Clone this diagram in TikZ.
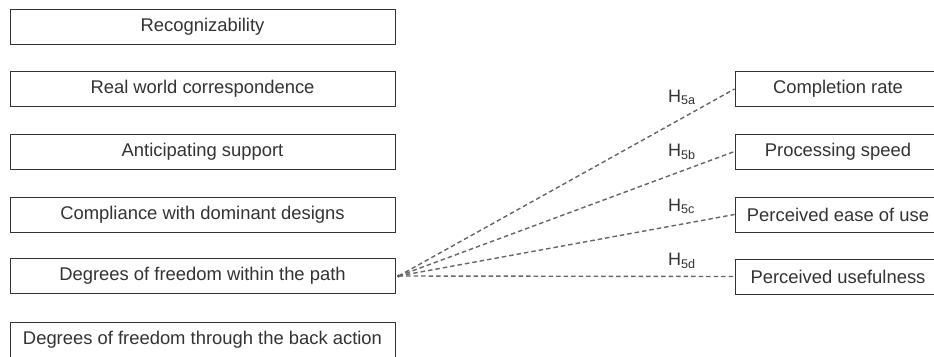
\documentclass[tikz,border=0pt]{standalone}
\usepackage{fontspec}
\setmainfont{Liberation Sans}
\begin{document}
\begin{tikzpicture}[x={(1pt,0)},y={(0,-1pt)},
  box/.style={draw=black!80, line width=1pt, minimum height=35pt, inner sep=0pt,
    text=black!80, font=\fontsize{18.4}{20}\selectfont},
  lbox/.style={box, minimum width=385pt},
  rbox/.style={box, minimum width=206pt},
  hyp/.style={draw=black!60, line width=1.4pt, dash pattern=on 4.5pt off 3pt},
  hlab/.style={anchor=base west, inner sep=0pt, text=black!80, font=\fontsize{18}{20}\selectfont}]
\useasboundingbox (0,0) rectangle (934,356);
\clip (0,0) rectangle (934,356);
\fill[white] (0,0) rectangle (934,356);
% left column
\node[lbox] (l1) at (202.5,26.5) {Recognizability};
\node[lbox] (l2) at (202.5,89) {Real world correspondence};
\node[lbox] (l3) at (202.5,151.5) {Anticipating support};
\node[lbox] (l4) at (202.5,214.5) {Compliance with dominant designs};
\node[lbox] (l5) at (202.5,276) {Degrees of freedom within the path};
\node[lbox] (l6) at (202.5,339.5) {Degrees of freedom through the back action};
% right column
\node[rbox] (r1) at (838,89) {Completion rate};
\node[rbox] (r2) at (838,151.5) {Processing speed};
\node[rbox] (r3) at (838,214.5) {Perceived ease of use};
\node[rbox] (r4) at (838,276.5) {Perceived usefulness};
% source point
\coordinate (src) at ([xshift=3pt]l5.east);
\fill[black!80] (src) circle (1.6pt);
\draw[hyp] (src) -- (r1.west);
\draw[hyp] (src) -- (r2.west);
\draw[hyp] (src) -- (r3.west);
\draw[hyp] (src) -- (r4.west);
% labels
\node[hlab] (h1) at (668,102) {H\textsubscript{5a}};
\node[hlab] (h2) at (668,156) {H\textsubscript{5b}};
\node[hlab] (h3) at (668,211) {H\textsubscript{5c}};
\node[hlab] (h4) at (668,265) {H\textsubscript{5d}};
\end{tikzpicture}
\end{document}
